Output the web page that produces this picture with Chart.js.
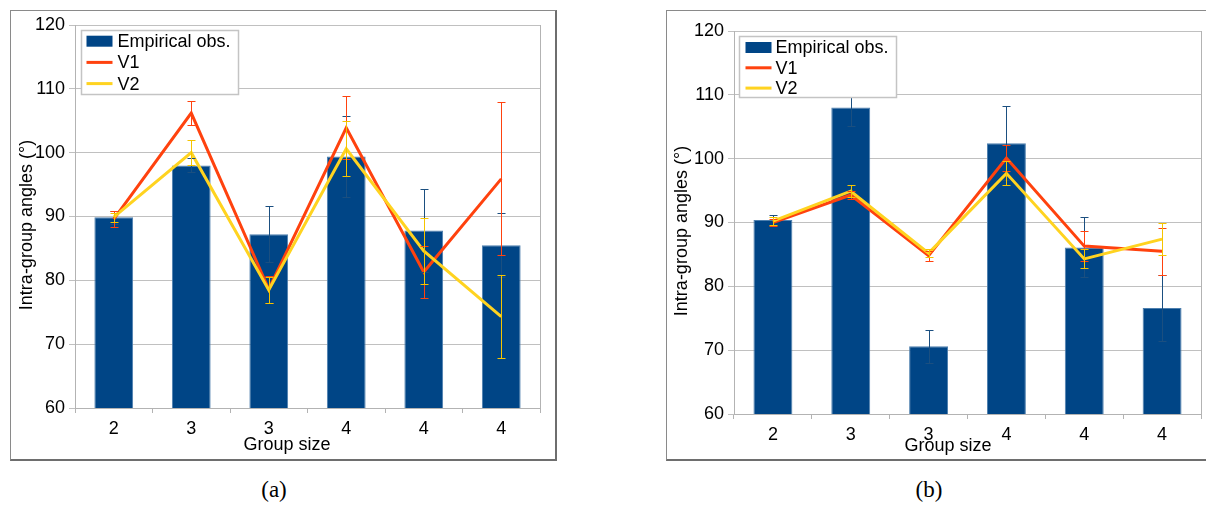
<!DOCTYPE html>
<html><head><meta charset="utf-8">
<script src="https://cdn.jsdelivr.net/npm/chart.js@4/dist/chart.umd.min.js"></script>
<style>
html,body{margin:0;padding:0;background:#fff;width:1206px;height:505px;overflow:hidden;position:relative;}
.frame{position:absolute;box-sizing:border-box;border-top:1px solid #8a8a8a;border-left:1px solid #8a8a8a;border-right:2px solid #6e6e6e;border-bottom:2px solid #6e6e6e;}
.cv{position:absolute;}
.cap{position:absolute;font-family:"Liberation Serif","DejaVu Serif",serif;font-size:23px;line-height:26px;color:#000;transform:translateX(-50%);}
</style></head>
<body>
<div class="frame" style="left:10px;top:10px;width:547px;height:451px;"></div>
<div class="frame" style="left:666px;top:10px;width:560px;height:451px;"></div>
<div class="cv" style="left:10px;top:10px;"><canvas id="ca" width="546" height="450"></canvas></div>
<div class="cv" style="left:666px;top:10px;"><canvas id="cb" width="540" height="450"></canvas></div>
<div class="cap" style="left:274px;top:477px;">(a)</div>
<div class="cap" style="left:929px;top:477px;">(b)</div>
<script>
// ---- data ----
const categories = ['2', '3', '3', '4', '4', '4'];
const seriesNames = ['Empirical obs.', 'V1', 'V2'];
const xTitle = 'Group size';
const yTitle = 'Intra-group angles (°)';
const yMin = 60, yMax = 120, yStep = 10;

// panel (a)
const empA    = [89.9, 98.0, 87.2, 99.4, 87.8, 85.5];
const empErrA = [1.0, 1.1, 4.4, 6.3, 6.5, 5.0];
const v1A     = [89.6, 106.2, 78.6, 103.9, 81.3, 95.9];
const v1ErrA  = [1.2, 1.9, 2.1, 4.9, 4.1, 12.0];
const v2A     = [89.9, 100.0, 78.5, 100.6, 84.6, 74.3];
const v2ErrA  = [0.7, 2.0, 2.0, 4.3, 5.2, 6.5];

// panel (b)
const empB    = [90.4, 108.0, 70.6, 102.4, 86.1, 76.6];
const empErrB = [0.8, 2.9, 2.6, 5.8, 4.7, 5.1];
const v1B     = [90.0, 94.3, 84.8, 100.1, 86.3, 85.5];
const v1ErrB  = [0.5, 0.6, 0.8, 2.0, 2.3, 3.7];
const v2B     = [90.2, 94.9, 85.2, 97.7, 84.3, 87.4];
const v2ErrB  = [0.6, 0.9, 0.6, 1.9, 1.5, 2.5];

// ---- styles ----
const BLUE = '#004586', RED = '#ff420e', YELLOW = '#ffd320';
const GRID = '#c0c0c0', AXIS = '#b3b3b3';
const FONT = '"Liberation Sans", Arial, sans-serif';
Chart.defaults.font.family = FONT;
Chart.defaults.color = '#000';

const errorBars = {
  id: 'errorBars',
  afterDatasetsDraw(chart) {
    const ctx = chart.ctx, ys = chart.scales.y;
    chart.data.datasets.forEach((ds, i) => {
      if (!ds.errors) return;
      const meta = chart.getDatasetMeta(i);
      ctx.save();
      ctx.strokeStyle = ds.errorColor;
      ctx.lineWidth = 1;
      meta.data.forEach((el, j) => {
        const v = ds.data[j], e = ds.errors[j];
        const x = Math.round(el.x) + 0.5;
        const yt = Math.round(ys.getPixelForValue(v + e)) + 0.5;
        const yb = Math.round(ys.getPixelForValue(v - e)) + 0.5;
        ctx.beginPath();
        ctx.moveTo(x, yt); ctx.lineTo(x, yb);
        ctx.moveTo(x - 4, yt); ctx.lineTo(x + 4, yt);
        ctx.moveTo(x - 4, yb); ctx.lineTo(x + 4, yb);
        ctx.stroke();
      });
      ctx.restore();
    });
  }
};

const plotFrame = {
  id: 'plotFrame',
  beforeDatasetsDraw(chart) {
    const {ctx, chartArea: a} = chart;
    ctx.save();
    ctx.strokeStyle = AXIS; ctx.lineWidth = 1;
    ctx.beginPath();
    const xr = Math.round(a.right) + 0.5;
    ctx.moveTo(xr, a.top); ctx.lineTo(xr, a.bottom);
    ctx.stroke();
    ctx.restore();
  }
};

const axisTitles = {
  id: 'axisTitles',
  afterDraw(chart, args, o) {
    const ctx = chart.ctx;
    ctx.save();
    ctx.font = '18px ' + FONT;
    ctx.fillStyle = '#000';
    ctx.textAlign = 'center';
    ctx.textBaseline = 'middle';
    ctx.fillText(o.x, o.xx, o.xy);
    ctx.translate(o.yx, o.yy);
    ctx.rotate(-Math.PI / 2);
    ctx.fillText(o.y, 0, 0);
    ctx.restore();
  }
};

const boxLegend = {
  id: 'boxLegend',
  afterDraw(chart, args, o) {
    const {ctx, chartArea: a} = chart;
    const x0 = Math.round(a.left + o.dx) + 0.5, y0 = Math.round(a.top + o.dy) + 0.5;
    ctx.save();
    ctx.fillStyle = '#fff';
    ctx.fillRect(x0, y0, o.w, o.h);
    ctx.strokeStyle = '#c4c4c4'; ctx.lineWidth = 1.5;
    ctx.strokeRect(x0, y0, o.w, o.h);
    ctx.font = '18px ' + FONT;
    ctx.textBaseline = 'middle';
    ctx.textAlign = 'left';
    chart.data.datasets.forEach((ds, i) => {
      const cy = y0 + o.first + i * o.row;
      if (ds.type === 'bar') {
        ctx.fillStyle = ds.backgroundColor;
        ctx.fillRect(x0 + o.sx, cy - 5.5, 26, 11);
      } else {
        ctx.fillStyle = ds.borderColor;
        ctx.fillRect(x0 + o.sx, cy - 1.5, 26, 3);
      }
      ctx.fillStyle = '#000';
      ctx.fillText(ds.label, x0 + o.tx, cy + 1);
    });
    ctx.restore();
  }
};

function makeChart(id, emp, empErr, v1, v1Err, v2, v2Err, L) {
  return new Chart(document.getElementById(id), {
    data: {
      labels: categories,
      datasets: [
        { type: 'bar', label: seriesNames[0], data: emp, errors: empErr, errorColor: '#1b4f80',
          backgroundColor: BLUE, borderColor: '#4d7fae', borderWidth: 1,
          barPercentage: 0.5, categoryPercentage: 1.0, order: 3 },
        { type: 'line', label: seriesNames[1], data: v1, errors: v1Err, errorColor: RED,
          borderColor: RED, backgroundColor: RED, borderWidth: 3, pointRadius: 0, tension: 0, order: 2 },
        { type: 'line', label: seriesNames[2], data: v2, errors: v2Err, errorColor: '#f5c400',
          borderColor: YELLOW, backgroundColor: YELLOW, borderWidth: 3, pointRadius: 0, tension: 0, order: 1 }
      ]
    },
    options: {
      responsive: false,
      animation: false,
      events: [],
      layout: { padding: { top: L.top, right: L.right, left: 0, bottom: 0 } },
      plugins: {
        legend: { display: false },
        tooltip: { enabled: false },
        boxLegend: L.legend,
        axisTitles: Object.assign({ x: xTitle, y: yTitle }, L.titles)
      },
      scales: {
        x: {
          offset: true,
          grid: { offset: true, drawOnChartArea: false, drawTicks: true, tickLength: 5, color: AXIS },
          border: { display: true, color: AXIS },
          ticks: { font: { size: 18 }, color: '#000', padding: 5 },
          title: { display: false },
          afterFit: s => { s.height = L.xh; }
        },
        y: {
          min: yMin, max: yMax,
          ticks: { stepSize: yStep, font: { size: 18 }, color: '#000', padding: 4 },
          grid: { color: GRID, tickLength: 6 },
          border: { display: true, color: AXIS },
          title: { display: false },
          afterFit: s => { s.width = L.yw; }
        }
      }
    },
    plugins: [plotFrame, errorBars, boxLegend, axisTitles]
  });
}

makeChart('ca', empA, empErrA, v1A, v1ErrA, v2A, v2ErrA, {
  top: 15, right: 16, yw: 65, xh: 52,
  titles: { xx: 277, xy: 435, yx: 17, yy: 215 },
  legend: { dx: 6, dy: 5, w: 157, h: 64, first: 10.7, row: 21.2, sx: 5, tx: 36 }
});
makeChart('cb', empB, empErrB, v1B, v1ErrB, v2B, v2ErrB, {
  top: 21, right: 5, yw: 68, xh: 46,
  titles: { xx: 282, xy: 436, yx: 16, yy: 221 },
  legend: { dx: 5, dy: 5, w: 157, h: 61, first: 11, row: 20.3, sx: 6, tx: 36 }
});
</script>
</body></html>
